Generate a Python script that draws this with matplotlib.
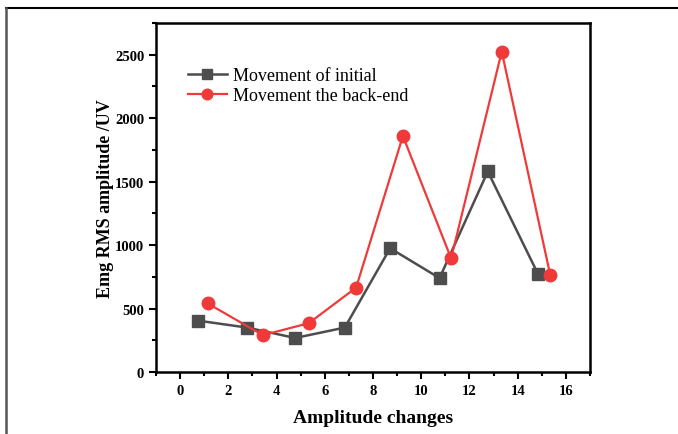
import matplotlib
matplotlib.use('Agg')
import matplotlib.pyplot as plt
import matplotlib.ticker as mticker
from matplotlib.lines import Line2D

plt.rcParams['font.family'] = ['Liberation Serif', 'DejaVu Serif']

# data
x_initial = [0.73, 2.78, 4.77, 6.83, 8.71, 10.76, 12.76, 14.85]
y_initial = [405, 350, 268, 350, 975, 740, 1580, 770]
x_backend = [1.15, 3.43, 5.34, 7.30, 9.24, 11.24, 13.34, 15.35]
y_backend = [540, 290, 385, 665, 1860, 895, 2525, 765]

GRAY = '#4d4d4d'
RED = '#f03a3a'

fig = plt.figure(figsize=(6.78, 4.35), dpi=100)
ax = fig.add_axes([156 / 678, 62 / 435, 434 / 678, 349 / 435])

ax.plot(x_initial, y_initial, color=GRAY, lw=1.8, marker='s', ms=8,
        label='Movement of initial')
ax.plot(x_backend, y_backend, color=RED, lw=1.6, marker='o', ms=9,
        label='Movement the back-end')

ax.set_xlim(-1, 17)
ax.set_ylim(0, 2750)
ax.xaxis.set_major_locator(mticker.MultipleLocator(2))
ax.xaxis.set_minor_locator(mticker.MultipleLocator(1))
ax.yaxis.set_major_locator(mticker.MultipleLocator(500))
ax.yaxis.set_minor_locator(mticker.MultipleLocator(250))
ax.tick_params(which='both', direction='out', width=1.5, top=False, right=False)
ax.tick_params(which='major', length=5, labelsize=10.5)
ax.tick_params(which='minor', length=3)
for lab in ax.get_xticklabels() + ax.get_yticklabels():
    lab.set_fontweight('bold')
for sp in ax.spines.values():
    sp.set_linewidth(1.8)

ax.set_xlabel('Amplitude changes', fontsize=14, fontweight='bold', labelpad=9)
ax.set_ylabel('Emg RMS amplitude /UV', fontsize=13, fontweight='bold', labelpad=1)

leg = ax.legend(loc='upper left', bbox_to_anchor=(0.056, 0.895), frameon=False,
                fontsize=13, handlelength=2.2, handletextpad=0.33,
                labelspacing=0.2, borderaxespad=0, markerscale=0.85)

# outer frame of the figure panel
fig.add_artist(Line2D([6 / 678, 1], [1 - 9 / 435, 1 - 9 / 435],
                      transform=fig.transFigure, color='black', lw=1.5))
fig.add_artist(Line2D([6 / 678, 6 / 678], [0, 1 - 9 / 435],
                      transform=fig.transFigure, color='#555555', lw=1.8))

fig.savefig('out.png', dpi=100)
